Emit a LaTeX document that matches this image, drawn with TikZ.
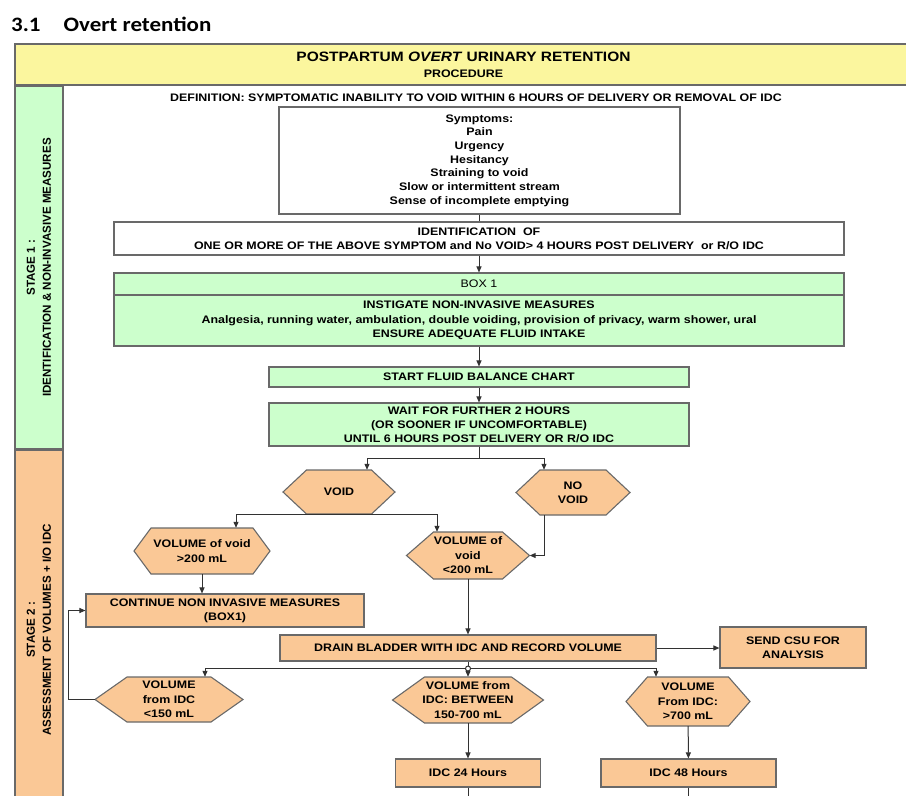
\documentclass[tikz,border=0pt]{standalone}
\usepackage{fontspec}
\setmainfont{Liberation Sans}[FakeStretch=1.14]
\newfontfamily\stagefont{Liberation Sans}
\newfontfamily\titlefont{Carlito}[FakeStretch=1.12]
\usetikzlibrary{arrows.meta}
\definecolor{headyellow}{RGB}{251,246,158}
\definecolor{stagegreen}{RGB}{204,255,204}
\definecolor{stageorange}{RGB}{250,200,150}
\definecolor{boxline}{RGB}{105,105,105}
\definecolor{arrline}{RGB}{50,50,50}
\newcommand\hexnode[6]{%
\filldraw[hexa,shift={(#2)}] (-#3,0) -- ({-#3+#5},-#4) -- ({#3-#5},-#4) -- (#3,0) -- ({#3-#5},#4) -- ({-#3+#5},#4) -- cycle;
\node[hextext,minimum width=2*#3,minimum height=2*#4] (#1) at (#2) {#6};}
\begin{document}
\begin{tikzpicture}[x=1pt,y=-1pt,
  txt/.style={font=\bfseries\fontsize{10.9}{14}\selectfont,align=center,inner sep=0pt},
  box/.style={txt,draw=boxline,line width=1.1pt,minimum width=#1},
  plainbox/.style={box=#1,fill=white},
  greenbox/.style={box=#1,fill=stagegreen},
  orangebox/.style={box=#1,fill=stageorange},
  stagebar/.style={draw=boxline,line width=1.1pt,rotate=90,align=center,inner sep=0pt,
    font=\stagefont\bfseries\fontsize{11.6}{16}\selectfont,minimum height=48},
  hexa/.style={draw=boxline,line width=1.1pt,fill=stageorange},
  hextext/.style={txt,font=\bfseries\fontsize{10.9}{14.5}\selectfont},
  conn/.style={draw=arrline,line width=1pt},
  arr/.style={conn,-{Triangle[length=6pt,width=5pt]}}]
\useasboundingbox (0,0) rectangle (906,796);
\node[anchor=base west,inner sep=0pt,font=\titlefont\bfseries\fontsize{20.5}{21}\selectfont] (title) at (11,31) {3.1\hspace{23pt}Overt retention};
\node[box=897,fill=headyellow,minimum height=41,font=\bfseries\fontsize{10.9}{16}\selectfont] (head) at (463.5,64.5)
  {{\fontsize{13.6}{16}\selectfont POSTPARTUM \textit{OVERT} URINARY RETENTION}\\PROCEDURE};
\node[stagebar,fill=stagegreen,minimum width=363] (stage1) at (39,267.5) {STAGE 1 :\\IDENTIFICATION \& NON-INVASIVE MEASURES};
\node[stagebar,fill=stageorange,minimum width=360] (stage2) at (39,630) {STAGE 2 :\\ASSESSMENT OF VOLUMES + I/O IDC};
\node[txt] (def) at (476,98) {DEFINITION: SYMPTOMATIC INABILITY TO VOID WITHIN 6 HOURS OF DELIVERY OR REMOVAL OF IDC};
\node[plainbox=401,minimum height=107,font=\bfseries\fontsize{10.9}{13.7}\selectfont] (symp) at (479.5,160.5)
  {Symptoms:\\Pain\\Urgency\\Hesitancy\\Straining to void\\Slow or intermittent stream\\Sense of incomplete emptying};
\node[plainbox=730,minimum height=33] (ident) at (479,238.5)
  {IDENTIFICATION\ \ OF\\ONE OR MORE OF THE ABOVE SYMPTOM and No VOID> 4 HOURS POST DELIVERY\ \ or R/O IDC};
\node[greenbox=730,minimum height=22,font=\fontsize{10.9}{14}\selectfont] (box1top) at (479,284) {BOX 1};
\node[greenbox=730,minimum height=51,font=\bfseries\fontsize{10.9}{14.5}\selectfont] (box1body) at (479,320.5)
  {INSTIGATE NON-INVASIVE MEASURES\\Analgesia, running water, ambulation, double voiding, provision of privacy, warm shower, ural\\ENSURE ADEQUATE FLUID INTAKE};
\node[greenbox=420,minimum height=20] (fluid) at (479,377) {START FLUID BALANCE CHART};
\node[greenbox=420,minimum height=43] (wait) at (479,424.5)
  {WAIT FOR FURTHER 2 HOURS\\(OR SOONER IF UNCOMFORTABLE)\\UNTIL 6 HOURS POST DELIVERY OR R/O IDC};
\hexnode{void}{339,492}{56}{22}{23.5}{VOID}
\hexnode{novoid}{573,492.5}{57}{22.5}{24}{NO\\VOID}
\hexnode{volA}{202,551}{68}{23}{17}{VOLUME of void\\>200 mL}
\hexnode{volB}{468,555.5}{61.5}{23.5}{27}{VOLUME of\\void\\<200 mL}
\node[orangebox=278,minimum height=33] (cont) at (225,610.5) {CONTINUE NON INVASIVE MEASURES\\(BOX1)};
\node[orangebox=376,minimum height=26] (drain) at (468,648) {DRAIN BLADDER WITH IDC AND RECORD VOLUME};
\node[orangebox=146,minimum height=41] (csu) at (793,647.5) {SEND CSU FOR\\ANALYSIS};
\hexnode{idcA}{169,699.5}{74}{22.5}{32}{VOLUME\\from IDC\\<150 mL}
\hexnode{idcB}{468,700}{75.5}{23}{32}{VOLUME from\\IDC: BETWEEN\\150-700 mL}
\hexnode{idcC}{688,701.5}{62}{24.5}{21.5}{VOLUME\\From IDC:\\>700 mL}
\node[orangebox=145,minimum height=28] (h24) at (468,773) {IDC 24 Hours};
\node[orangebox=175,minimum height=28] (h48) at (688.5,773) {IDC 48 Hours};
\draw[conn] (symp.south) -- (symp.south |- ident.north);
\draw[arr] (ident) -- (box1top);
\draw[arr] (box1body) -- (fluid);
\draw[arr] (fluid) -- (wait);
\draw[conn] (wait.south) -- ++(0,12) coordinate (split1);
\draw[arr] (split1) -| ([xshift=28]void.north);
\draw[arr] (split1) -| ([xshift=-29]novoid.north);
\draw[arr] (void.south) -| ([xshift=34]volA.north);
\draw[arr] (void.south) -| ([xshift=-31]volB.north);
\draw[arr] ([xshift=-29]novoid.south) |- (volB.east);
\draw[arr] (volA.south) -- (volA.south |- cont.north);
\draw[arr] (volB) -- (drain);
\draw[arr] (drain.east) -- (drain.east -| csu.west);
\draw[conn] (drain.south) -- ++(0,7) coordinate (split2);
\draw[arr] (split2) -| ([xshift=36]idcA.north);
\draw[arr] (split2) -| ([xshift=-32]idcC.north);
\draw[arr] (split2) -- (idcB.north);
\draw[conn,fill=white] (split2) circle (2.5);
\draw[arr] (idcA.west) -- ++(-26,0) |- (cont.west);
\draw[arr] (idcB) -- (h24);
\draw[arr] (idcC) -- (h48);
\draw[conn] (h24.south) -- ++(0,15);
\draw[conn] (h48.south) -- ++(0,15);
\end{tikzpicture}
\end{document}
